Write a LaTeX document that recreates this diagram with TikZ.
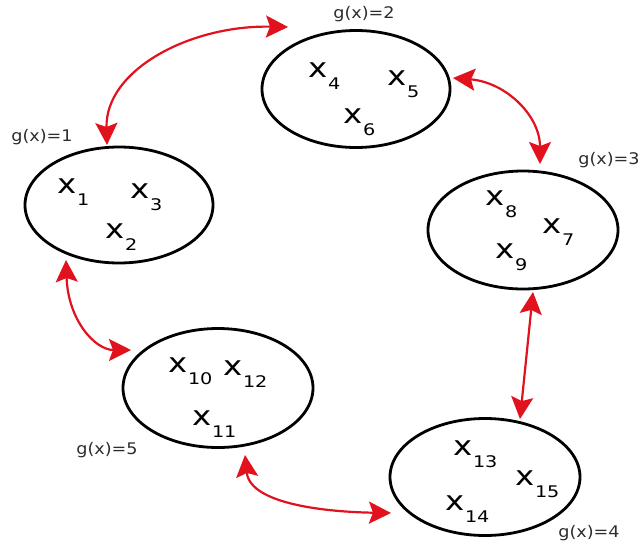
\documentclass[tikz,border=0pt]{standalone}
\usepackage{fontspec}
\setmainfont{DejaVu Sans}
\usetikzlibrary{shapes.geometric,arrows.meta}
\definecolor{arrowred}{RGB}{225,18,30}
\definecolor{labelgray}{RGB}{45,45,45}
\newcommand\xsub[1]{x\kern0.5pt\raisebox{-12pt}{\fontsize{16}{16}\selectfont #1}}
\tikzset{
  set/.style={ellipse,draw=black,line width=2.8pt,inner sep=0pt},
  elem/.style={anchor=base west,inner sep=0pt,xscale=1.2,font=\fontsize{27}{27}\selectfont},
  glabel/.style={inner sep=0pt,xscale=1.1,text=labelgray,font=\fontsize{16}{16}\selectfont},
  link/.style={draw=arrowred,line width=2.2pt,{Stealth[length=22pt,width=22pt,inset=4pt]}-{Stealth[length=22pt,width=22pt,inset=4pt]}}
}
\begin{document}
\begin{tikzpicture}[x=1pt,y=-1pt]
\useasboundingbox (0,0) rectangle (641,550);
% sets
\node[set,minimum width=188pt,minimum height=116pt] (e1) at (119,205) {};
\node[set,minimum width=188pt,minimum height=117pt] (e2) at (356,89) {};
\node[set,minimum width=190pt,minimum height=118pt] (e3) at (523,230) {};
\node[set,minimum width=190pt,minimum height=117pt] (e4) at (485,477) {};
\node[set,minimum width=190pt,minimum height=119pt] (e5) at (218,388) {};
% elements
\node[elem] (x1) at (57,193) {\xsub{1}};
\node[elem] (x3) at (130,198) {\xsub{3}};
\node[elem] (x2) at (105,238) {\xsub{2}};
\node[elem] (x4) at (308,77) {\xsub{4}};
\node[elem] (x5) at (387,85) {\xsub{5}};
\node[elem] (x6) at (343,123) {\xsub{6}};
\node[elem] (x8) at (485,205) {\xsub{8}};
\node[elem] (x7) at (542,233) {\xsub{7}};
\node[elem] (x9) at (495,258) {\xsub{9}};
\node[elem] (x10) at (168,372) {\xsub{10}};
\node[elem] (x12) at (223,375) {\xsub{12}};
\node[elem] (x11) at (192,425) {\xsub{11}};
\node[elem] (x13) at (453,455) {\xsub{13}};
\node[elem] (x15) at (515,485) {\xsub{15}};
\node[elem] (x14) at (445,510) {\xsub{14}};
% labels
\node[glabel] (g1) at (42,137) {g(x)=1};
\node[glabel] (g2) at (364,14) {g(x)=2};
\node[glabel] (g3) at (609,160) {g(x)=3};
\node[glabel] (g5) at (107,450) {g(x)=5};
\node[glabel] (g4) at (589,533) {g(x)=4};
% arrow tips
\coordinate (t1a) at (107,145);
\coordinate (t1b) at (288,27);
\coordinate (t2a) at (453,78);
\coordinate (t2b) at (540,164);
\coordinate (t3a) at (533,292);
\coordinate (t3b) at (520,419);
\coordinate (t4a) at (245,455);
\coordinate (t4b) at (391,513);
\coordinate (t5a) at (66,260);
\coordinate (t5b) at (131,350);
% connectors
\draw[link] (t1a) .. controls (105,70) and (190,25) .. (t1b);
\draw[link] (t2a) .. controls (505,82) and (540,115) .. (t2b);
\draw[link] (t3a) -- (t3b);
\draw[link] (t4a) .. controls (250,505) and (330,512) .. (t4b);
\draw[link] (t5a) .. controls (68,320) and (95,350) .. (t5b);
\end{tikzpicture}
\end{document}
